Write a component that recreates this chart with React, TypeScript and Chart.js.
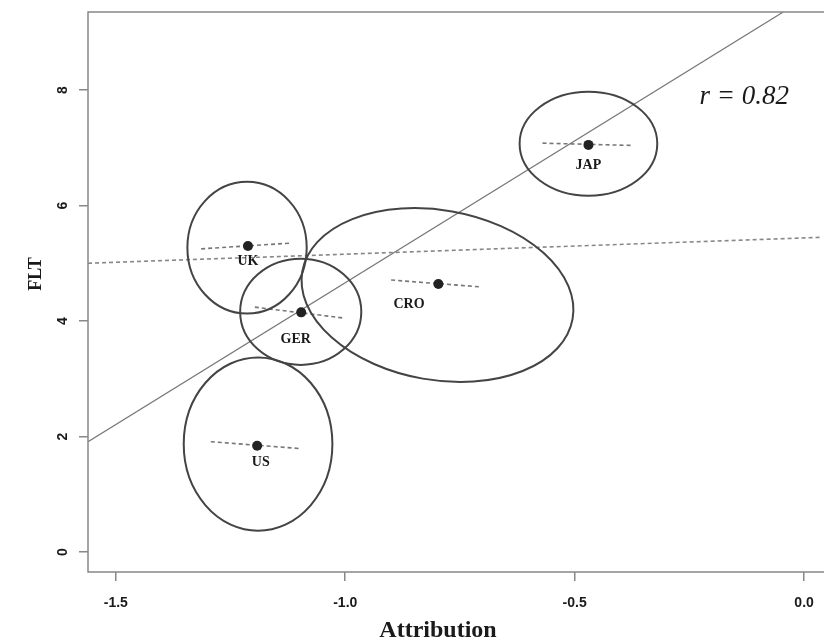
import React, { useEffect, useRef } from "react";
import { Chart, registerables } from "chart.js";

Chart.register(...registerables);

// ---- data ----
const countries = ["UK", "GER", "CRO", "JAP", "US"];
const meanX = [-1.212, -1.096, -0.797, -0.47, -1.192];
const meanY = [5.3, 4.15, 4.64, 7.05, 1.84];
const labelX = [-1.212, -1.108, -0.861, -0.47, -1.184];
const labelY = [5.04, 3.69, 4.28, 6.7, 1.56];

// ellipse centres and semi-axes (data units), tilt in degrees
const ellipseCx = [-1.214, -1.097, -0.799, -0.47, -1.19];
const ellipseCy = [5.27, 4.16, 4.45, 7.07, 1.87];
const ellipseRx = [0.13, 0.132, 0.299, 0.15, 0.162];
const ellipseRy = [1.14, 0.92, 1.47, 0.9, 1.5];
const ellipseTilt = [0, 0, 10, 0, 0];

// within-country fit lines
const localX0 = [-1.314, -1.197, -0.9, -0.57, -1.293];
const localX1 = [-1.117, -1.002, -0.703, -0.373, -1.096];
const localY0 = [5.25, 4.24, 4.71, 7.08, 1.91];
const localY1 = [5.35, 4.05, 4.59, 7.04, 1.79];

// pooled (dotted) fit and between-country regression
const pooledX = [-1.5606, 0.039];
const pooledY = [5.0, 5.45];
const regX = [-1.5606, -0.0455];
const regY = [1.91, 9.35];

const xTicks = [-1.5, -1.0, -0.5, 0.0];
const yTicks = [0, 2, 4, 6, 8];
const xRange = [-1.5606, 0.039];
const yRange = [-0.346, 9.351];

const rText = "r = 0.82";
const rPos = [-0.228, 7.88];

const overlayPlugin = {
  id: "overlay",
  afterDatasetsDraw(chart: any) {
    const { ctx, chartArea } = chart;
    const xs = chart.scales.x;
    const ys = chart.scales.y;
    ctx.save();
    ctx.beginPath();
    ctx.rect(chartArea.left, chartArea.top, chartArea.right - chartArea.left, chartArea.bottom - chartArea.top);
    ctx.clip();
    // ellipses
    ctx.strokeStyle = "#444";
    ctx.lineWidth = 2;
    for (let i = 0; i < ellipseCx.length; i++) {
      const cx = xs.getPixelForValue(ellipseCx[i]);
      const cy = ys.getPixelForValue(ellipseCy[i]);
      const rx = Math.abs(xs.getPixelForValue(ellipseCx[i] + ellipseRx[i]) - cx);
      const ry = Math.abs(ys.getPixelForValue(ellipseCy[i] + ellipseRy[i]) - cy);
      ctx.beginPath();
      ctx.ellipse(cx, cy, rx, ry, (ellipseTilt[i] * Math.PI) / 180, 0, Math.PI * 2);
      ctx.stroke();
    }
    // country labels
    ctx.fillStyle = "#1a1a1a";
    ctx.font = "bold 14px 'Liberation Serif', serif";
    ctx.textAlign = "center";
    ctx.textBaseline = "middle";
    for (let i = 0; i < countries.length; i++) {
      ctx.fillText(countries[i], xs.getPixelForValue(labelX[i]), ys.getPixelForValue(labelY[i]));
    }
    // r text
    ctx.font = "italic 27px 'Liberation Serif', serif";
    ctx.textAlign = "left";
    ctx.fillText(rText, xs.getPixelForValue(rPos[0]), ys.getPixelForValue(rPos[1]));
    ctx.restore();

    ctx.save();
    // box
    ctx.strokeStyle = "#888";
    ctx.lineWidth = 1.5;
    ctx.beginPath();
    ctx.moveTo(chartArea.right + 2, chartArea.top);
    ctx.lineTo(chartArea.left, chartArea.top);
    ctx.lineTo(chartArea.left, chartArea.bottom);
    ctx.lineTo(chartArea.right + 2, chartArea.bottom);
    ctx.stroke();
    // y tick labels (rotated, R style)
    ctx.fillStyle = "#1a1a1a";
    ctx.font = "bold 14px 'Liberation Sans', sans-serif";
    ctx.textAlign = "center";
    ctx.textBaseline = "middle";
    for (const v of yTicks) {
      const py = ys.getPixelForValue(v);
      ctx.save();
      ctx.translate(chartArea.left - 25, py);
      ctx.rotate(-Math.PI / 2);
      ctx.fillText(String(v), 0, 0);
      ctx.restore();
    }
    // axis titles
    ctx.font = "bold 18px 'Liberation Serif', serif";
    ctx.save();
    ctx.translate(36, 274);
    ctx.rotate(-Math.PI / 2);
    ctx.fillText("FLT", 0, 0);
    ctx.restore();
    ctx.font = "bold 24px 'Liberation Serif', serif";
    ctx.fillText("Attribution", 438, 631);
    ctx.restore();
  },
};

export default function App() {
  const ref = useRef<HTMLCanvasElement | null>(null);
  useEffect(() => {
    document.body.style.margin = "0";
    const canvas = ref.current;
    if (!canvas) return;
    const lineDs = (xsArr: number[], ysArr: number[], color: string, width: number, dash: number[]) => ({
      data: xsArr.map((x, i) => ({ x, y: ysArr[i] })),
      showLine: true,
      borderColor: color,
      borderWidth: width,
      borderDash: dash,
      pointRadius: 0,
      fill: false,
    });
    const datasets: any[] = [
      {
        data: meanX.map((x, i) => ({ x, y: meanY[i] })),
        showLine: false,
        pointRadius: 5,
        pointBackgroundColor: "#222",
        pointBorderColor: "#222",
        pointBorderWidth: 0,
      },
      lineDs(regX, regY, "#777", 1.3, []),
      lineDs(pooledX, pooledY, "#888", 1.6, [4, 3]),
    ];
    for (let i = 0; i < countries.length; i++) {
      datasets.push(lineDs([localX0[i], localX1[i]], [localY0[i], localY1[i]], "#777", 1.6, [4, 3]));
    }
    const chart = new Chart(canvas, {
      type: "scatter",
      data: { datasets },
      options: {
        animation: false,
        responsive: false,
        events: [],
        layout: { padding: { top: 12, right: 0, left: 0, bottom: 0 } },
        plugins: { legend: { display: false }, tooltip: { enabled: false } },
        scales: {
          x: {
            type: "linear",
            min: xRange[0],
            max: xRange[1],
            afterBuildTicks: (axis: any) => {
              axis.ticks = xTicks.map((v) => ({ value: v }));
            },
            afterFit: (axis: any) => {
              axis.height = 72;
              axis.paddingLeft = 0;
              axis.paddingRight = 0;
            },
            border: { display: false },
            grid: { drawOnChartArea: false, drawTicks: true, tickLength: 9, color: "#888", lineWidth: 1.5 },
            ticks: {
              padding: 14,
              color: "#1a1a1a",
              font: { family: "'Liberation Sans', sans-serif", size: 14, weight: "bold" },
              callback: (v: any) => Number(v).toFixed(1),
              maxRotation: 0,
              minRotation: 0,
              autoSkip: false,
            },
          },
          y: {
            type: "linear",
            min: yRange[0],
            max: yRange[1],
            afterBuildTicks: (axis: any) => {
              axis.ticks = yTicks.map((v) => ({ value: v }));
            },
            afterFit: (axis: any) => {
              axis.width = 88;
            },
            border: { display: false },
            grid: { drawOnChartArea: false, drawTicks: true, tickLength: 9, color: "#888", lineWidth: 1.5 },
            ticks: { display: false },
          },
        },
      },
      plugins: [overlayPlugin],
    });
    return () => chart.destroy();
  }, []);
  return (
    <div style={{ width: 827, height: 644, background: "#fff" }}>
      <canvas ref={ref} width={827} height={644} style={{ display: "block" }} />
    </div>
  );
}
